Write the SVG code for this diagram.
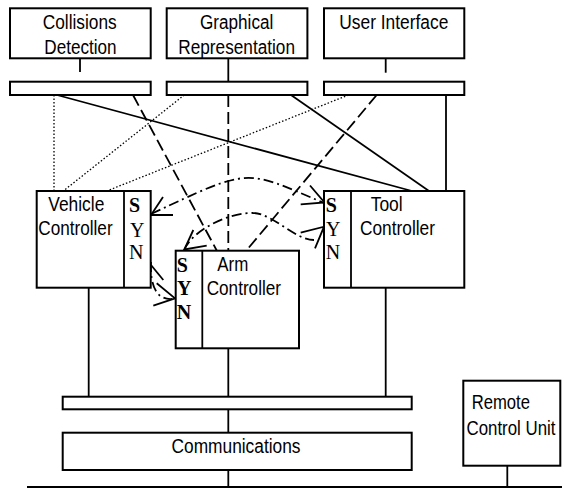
<svg xmlns="http://www.w3.org/2000/svg" width="562" height="488" viewBox="0 0 562 488">
<style>
.box{fill:#fff;stroke:#000;stroke-width:2}
.t{font-family:"Liberation Sans",Arial,sans-serif;font-size:20px;fill:#000}
.s{font-family:"Liberation Serif","Times New Roman",serif;font-size:20px;fill:#000}
.b{font-weight:bold}
.ln{fill:none;stroke:#000;stroke-width:1.8}
.dash{fill:none;stroke:#000;stroke-width:1.8;stroke-dasharray:12 5}
.dot{fill:none;stroke:#000;stroke-width:1.3;stroke-dasharray:1.5 2}
.dd{fill:none;stroke:#000;stroke-width:1.8;stroke-dasharray:10 4 2 4}
.ah{fill:none;stroke:#000;stroke-width:1.8;stroke-linejoin:miter}
</style>
<rect width="562" height="488" fill="#fff"/>
<g id="connectors">
  <line class="ln" x1="80" y1="58" x2="80" y2="72"/>
  <line class="ln" x1="228.3" y1="58" x2="228.3" y2="82"/>
  <line class="ln" x1="385.7" y1="58" x2="385.7" y2="72.7"/>
  <line class="ln" x1="446" y1="95" x2="446" y2="191"/>
  <line class="dot" x1="54" y1="95" x2="54" y2="191"/>
  <line class="ln" x1="57" y1="95" x2="412" y2="191"/>
  <line class="dash" x1="133" y1="95" x2="217" y2="251"/>
  <line class="dash" x1="228.3" y1="95" x2="228.3" y2="251"/>
  <line class="dot" x1="184.3" y1="95" x2="63.3" y2="191"/>
  <line class="ln" x1="291" y1="95" x2="429" y2="191"/>
  <line class="dot" x1="348.5" y1="95" x2="106.7" y2="191"/>
  <line class="dash" x1="376.7" y1="95" x2="246" y2="251"/>
  <path class="dd" d="M151,214 C251.8,167 243.2,168.7 324,203"/>
  <polyline class="ah" points="173,215 151,215 163,197"/>
  <polyline class="ah" points="300.7,204.3 324.5,202.5 310,185.5"/>
  <path class="dd" d="M184,250 C194,228 232,212 253,213 C272,213 295,240 314,240"/>
  <polyline class="ah" points="193.3,230 184.3,249.5 206.7,245.7"/>
  <polyline class="ah" points="300.7,232.7 324,226.7 315,248.3"/>
  <path class="dd" d="M151,262 C150,285 156,300 172,299"/>
  <line class="ah" x1="151" y1="265" x2="163.3" y2="280"/>
  <polyline class="ah" points="156.7,283.3 175,298.3 153.3,305.7"/>
  <line class="ln" x1="88.7" y1="288" x2="88.7" y2="396.7"/>
  <line class="ln" x1="228.3" y1="348" x2="228.3" y2="396.7"/>
  <line class="ln" x1="385.7" y1="288" x2="385.7" y2="396.7"/>
  <line class="ln" x1="228.3" y1="409.3" x2="228.3" y2="432.7"/>
  <line class="ln" x1="228.3" y1="452" x2="228.3" y2="487"/>
  <line class="ln" x1="507.3" y1="465.7" x2="507.3" y2="487"/>
  <line class="ln" x1="27" y1="487" x2="562" y2="487"/>
</g>
<g id="collisions-detection">
  <rect class="box" x="10" y="8.3" width="140.7" height="50"/>
  <text class="t" x="42.7" y="29.3" textLength="74" lengthAdjust="spacingAndGlyphs">Collisions</text>
  <text class="t" x="44.3" y="54" textLength="72.3" lengthAdjust="spacingAndGlyphs">Detection</text>
</g>
<g id="graphical-representation">
  <rect class="box" x="166.7" y="8.3" width="140.7" height="50"/>
  <text class="t" x="200" y="29.3" textLength="73.3" lengthAdjust="spacingAndGlyphs">Graphical</text>
  <text class="t" x="178.3" y="54" textLength="116.7" lengthAdjust="spacingAndGlyphs">Representation</text>
</g>
<g id="user-interface">
  <rect class="box" x="324" y="8.3" width="140.3" height="50"/>
  <text class="t" x="339.3" y="29.3" textLength="109" lengthAdjust="spacingAndGlyphs">User Interface</text>
</g>
<g id="bar-collisions"><rect class="box" x="10" y="81.7" width="140.7" height="13.3"/></g>
<g id="bar-graphical"><rect class="box" x="166.7" y="81.7" width="140.7" height="13.3"/></g>
<g id="bar-ui"><rect class="box" x="324" y="81.7" width="140.3" height="13.3"/></g>
<g id="vehicle-controller">
  <rect class="box" x="36.7" y="191" width="114" height="96.7"/>
  <line class="ln" x1="124" y1="191" x2="124" y2="287.7" stroke-width="2"/>
  <text class="t" x="48.3" y="210.7" textLength="56" lengthAdjust="spacingAndGlyphs">Vehicle</text>
  <text class="t" x="38.3" y="235" textLength="74.3" lengthAdjust="spacingAndGlyphs">Controller</text>
  <text class="s b" x="129" y="211.7">S</text>
  <text class="s" x="130" y="236.5">Y</text>
  <text class="s" x="129" y="259">N</text>
</g>
<g id="arm-controller">
  <rect class="box" x="175.7" y="250.7" width="123.3" height="97.6"/>
  <line class="ln" x1="202.3" y1="250.7" x2="202.3" y2="348.3" stroke-width="2"/>
  <text class="t" x="217.3" y="270.7" textLength="31" lengthAdjust="spacingAndGlyphs">Arm</text>
  <text class="t" x="206.7" y="295" textLength="74.3" lengthAdjust="spacingAndGlyphs">Controller</text>
  <text class="s b" x="176.7" y="271.7">S</text>
  <text class="s b" x="177" y="295">Y</text>
  <text class="s b" x="176.7" y="319.3">N</text>
</g>
<g id="tool-controller">
  <rect class="box" x="324" y="191" width="140.3" height="96.7"/>
  <line class="ln" x1="351" y1="191" x2="351" y2="287.7" stroke-width="2"/>
  <text class="t" x="370.7" y="210.7" textLength="32" lengthAdjust="spacingAndGlyphs">Tool</text>
  <text class="t" x="360" y="235" textLength="75" lengthAdjust="spacingAndGlyphs">Controller</text>
  <text class="s b" x="325.7" y="211.7">S</text>
  <text class="s" x="326" y="235.7">Y</text>
  <text class="s" x="325.7" y="259.3">N</text>
</g>
<g id="bus-bar"><rect class="box" x="62.7" y="396.7" width="349" height="12.6"/></g>
<g id="communications">
  <rect class="box" x="62.7" y="432.7" width="349" height="37.3"/>
  <text class="t" x="171.5" y="453.3" textLength="129" lengthAdjust="spacingAndGlyphs">Communications</text>
</g>
<g id="remote-control-unit">
  <rect class="box" x="463.3" y="380.7" width="97" height="85"/>
  <text class="t" x="471.7" y="409.3" textLength="58.3" lengthAdjust="spacingAndGlyphs">Remote</text>
  <text class="t" x="466.5" y="435" textLength="89" lengthAdjust="spacingAndGlyphs">Control Unit</text>
</g>
</svg>
